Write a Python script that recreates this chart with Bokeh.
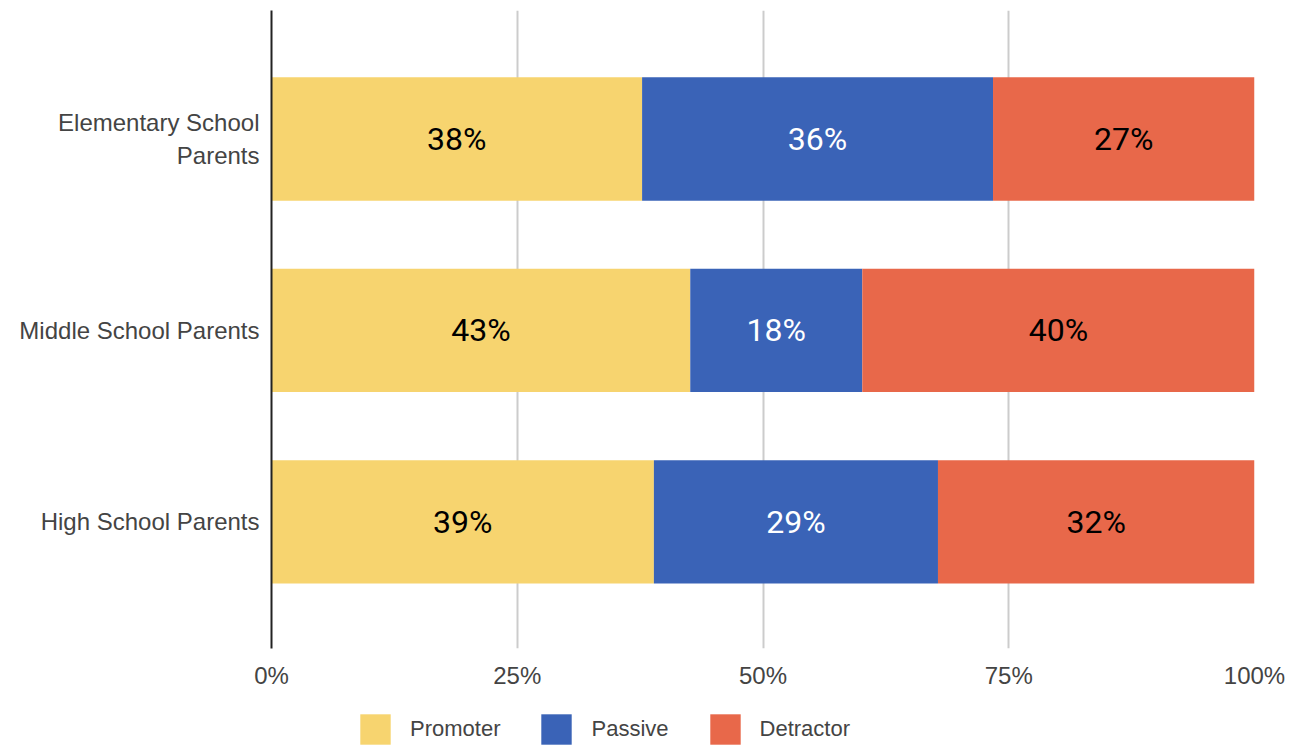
from bokeh.plotting import figure
from bokeh.layouts import column
from bokeh.models import ColumnDataSource, Range1d, FixedTicker, Legend, LegendItem
from bokeh.core.properties import value
from bokeh.embed import file_html
from bokeh.resources import INLINE

categories = ["Elementary School\nParents", "Middle School Parents", "High School Parents"]
series = ["Promoter", "Passive", "Detractor"]
promoter = [37.7, 42.6, 38.9]
passive = [35.7, 17.5, 28.9]
detractor = [26.6, 39.9, 32.2]
colors = ["#f7d46f", "#3a63b7", "#e8684a"]
label_colors = ["#000000", "#ffffff", "#000000"]
x_ticks = [0, 25, 50, 75, 100]
x_tick_labels = ["0%", "25%", "50%", "75%", "100%"]

n = len(categories)
ypos = [n - 1 - i for i in range(n)]

p = figure(width=1290, height=700, x_range=Range1d(0, 100), y_range=Range1d(-0.661, 2.671),
           output_backend="svg", toolbar_location=None,
           min_border_left=271, min_border_right=36, min_border_top=10, min_border_bottom=52)
p.outline_line_color = None

values = [promoter, passive, detractor]
left = [0.0] * n
lx, ly, lt, lc = [], [], [], []
for j, s in enumerate(series):
    vals = values[j]
    right = [left[i] + vals[i] for i in range(n)]
    src = ColumnDataSource(dict(y=ypos, left=left, right=right))
    p.hbar(y="y", left="left", right="right", height=0.644, source=src,
           fill_color=colors[j], line_color=None)
    for i in range(n):
        lx.append((left[i] + right[i]) / 2)
        ly.append(ypos[i])
        lt.append(f"{int(vals[i] + 0.5)}%")
        lc.append(label_colors[j])
    left = right

lsrc = ColumnDataSource(dict(x=lx, y=ly, text=lt, color=lc))
p.text(x="x", y="y", text="text", text_color="color", source=lsrc,
       text_align="center", text_baseline="middle",
       text_font=value("Roboto"), text_font_size="32px")

# x axis
p.xaxis.ticker = FixedTicker(ticks=x_ticks)
p.xaxis.major_label_overrides = {t: l for t, l in zip(x_ticks, x_tick_labels)}
p.xaxis.axis_line_color = None
p.xaxis.major_tick_line_color = None
p.xaxis.minor_tick_line_color = None
p.xaxis.major_tick_out = 0
p.xaxis.major_label_standoff = 13
p.xaxis.major_label_text_font = "Liberation Sans"
p.xaxis.major_label_text_font_size = "24px"
p.xaxis.major_label_text_color = "#444444"

# y axis
p.yaxis.ticker = FixedTicker(ticks=ypos)
p.yaxis.major_label_overrides = {ypos[i]: categories[i] for i in range(n)}
p.yaxis.axis_line_color = "#222222"
p.yaxis.axis_line_width = 2
p.yaxis.major_tick_line_color = None
p.yaxis.minor_tick_line_color = None
p.yaxis.major_tick_out = 0
p.yaxis.major_label_standoff = 12
p.yaxis.major_label_text_font = "Liberation Sans"
p.yaxis.major_label_text_font_size = "24px"
p.yaxis.major_label_text_color = "#444444"

p.xgrid.ticker = FixedTicker(ticks=x_ticks)
p.xgrid.grid_line_color = "#cccccc"
p.xgrid.grid_line_width = 2
p.ygrid.visible = False

# legend strip (its frame is aligned with the main plot's frame by the column layout)
pl = figure(width=1290, height=48, x_range=Range1d(0, 1), y_range=Range1d(0, 1),
            output_backend="svg", toolbar_location=None, x_axis_type=None, y_axis_type=None,
            min_border_left=0, min_border_right=0, min_border_top=0, min_border_bottom=0)
pl.outline_line_color = None
pl.xgrid.visible = False
pl.ygrid.visible = False
leg_renderers = []
for j, s in enumerate(series):
    # legend proxy, placed outside the visible range
    r = pl.hbar(y=[-10], left=[0], right=[1], height=0.5, fill_color=colors[j], line_color=None)
    leg_renderers.append(r)

legend = Legend(items=[LegendItem(label=s, renderers=[r]) for s, r in zip(series, leg_renderers)],
                location=(85, 0), orientation="horizontal",
                glyph_width=38, glyph_height=38, label_standoff=16, spacing=37,
                padding=0, margin=0, border_line_color=None, background_fill_alpha=0,
                label_text_font="Liberation Sans", label_text_font_size="22px",
                label_text_color="#444444")
pl.add_layout(legend)

layout = column(p, pl, spacing=0)
open("out.html", "w").write(file_html(layout, INLINE))
